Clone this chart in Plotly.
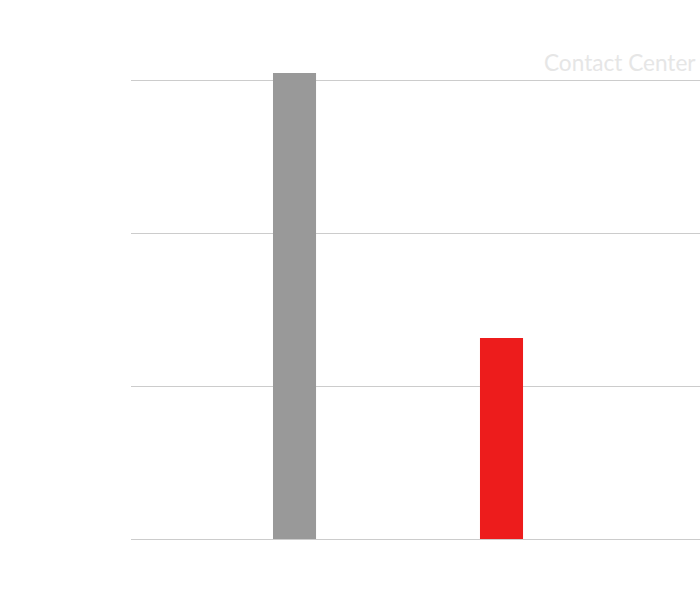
import plotly.graph_objs as go

# chart values (axis has no visible labels)
categories = ["A", "B"]
values = [30.5, 13.15]
colors = ["#999999", "#ed1c1c"]
label = "Contact Center"

fig = go.Figure()
bar = go.Bar(x=categories, y=values, marker=dict(color=colors, line=dict(width=0)),
             width=0.208, hoverinfo="skip")
fig.add_trace(bar)

fig.update_layout(
    width=700, height=597,
    margin=dict(l=131, r=0, t=50, b=58),
    paper_bgcolor="white", plot_bgcolor="white",
    showlegend=False,
    xaxis=dict(range=[-0.79, 1.959], showticklabels=False, showgrid=False,
               zeroline=False, showline=False, ticks=""),
    yaxis=dict(range=[0, 32], tickvals=[0, 10, 20, 30], showticklabels=False,
               showgrid=True, gridcolor="#cccccc", gridwidth=1,
               zeroline=True, zerolinecolor="#cccccc", zerolinewidth=1,
               showline=False, ticks=""),
    annotations=[dict(text=label, xref="paper", yref="paper", x=1, y=0.974,
                      xanchor="right", yanchor="middle", xshift=-2, showarrow=False,
                      font=dict(family="Lato", size=22.6, color="#e6e6e6"))],
)

# drop the default body margin so the figure sits at the page corner
fig.write_html("out.html", config={"displayModeBar": False},
               post_script="document.body.style.margin='0';")
